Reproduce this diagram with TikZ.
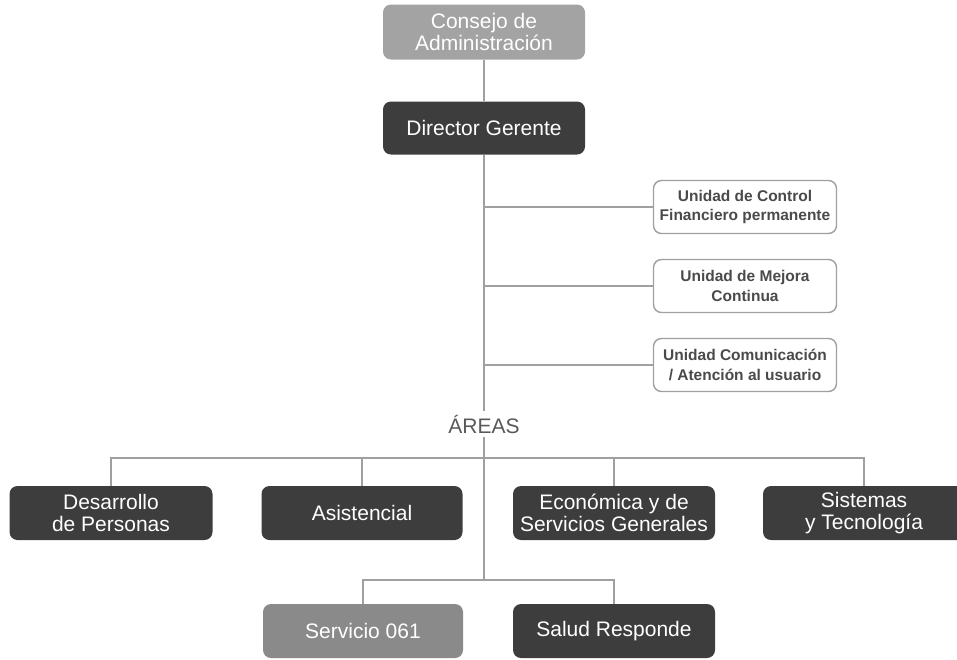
\documentclass[tikz,border=0pt]{standalone}
\usepackage{fontspec}
\setmainfont{Liberation Sans}
\definecolor{lightbox}{HTML}{A3A3A3}
\definecolor{midbox}{HTML}{8A8A8A}
\definecolor{darkbox}{HTML}{3D3D3D}
\definecolor{linegray}{HTML}{A0A0A0}
\definecolor{unittext}{HTML}{4A4A4A}
\begin{document}
\begin{tikzpicture}[x=1pt, y=-1pt]
            \tikzstyle{box}=[rectangle, rounded corners=8pt, inner sep=2pt, minimum height=54pt, text=white, align=center, font=\fontsize{21}{21.5}\selectfont]
            \tikzstyle{dark}=[box, fill=darkbox]
            \tikzstyle{unit}=[rectangle, rounded corners=8pt, draw=linegray, line width=1.4pt, fill=white, minimum width=183pt, minimum height=53pt, align=center, text=unittext, font=\fontsize{15.5}{19.5}\selectfont\bfseries]
            \tikzstyle{edge}=[linegray, line width=2pt]

            \useasboundingbox (0,0) rectangle (957,659);
            \clip (0,0) rectangle (957,659);

            \node[box, fill=lightbox, minimum width=202pt, minimum height=55pt] (consejo) at (484,32) {Consejo de\\Administración};
            \node[dark, minimum width=202pt, minimum height=53pt] (director) at (484,128) {Director Gerente};

            \node[unit] (control) at (745,207) {Unidad de Control\\Financiero permanente};
            \node[unit] (mejora) at (745,286) {Unidad de Mejora\\Continua};
            \node[unit] (comunica) at (745,365) {Unidad Comunicación\\/ Atención al usuario};

            \node[text=black!65, font=\fontsize{21}{21}\selectfont, inner sep=4pt] (areas) at (484,424) {ÁREAS};

            \node[dark, minimum width=203pt] (desarrollo) at (111,513) {Desarrollo\\de Personas};
            \node[dark, minimum width=201pt] (asistencial) at (362,513) {Asistencial};
            \node[dark, minimum width=202pt] (economica) at (614,513) {Económica y de\\Servicios Generales};
            \node[dark, minimum width=202pt] (sistemas) at (864,513) {Sistemas\\y Tecnología};

            \node[box, fill=midbox, minimum width=200pt] (servicio) at (363,631) {Servicio 061};
            \node[dark, minimum width=202pt] (salud) at (614,631) {Salud Responde};

            \coordinate (bus) at (484,458);
            \coordinate (split) at (484,580);

            \draw[edge] (consejo) -- (director);
            \draw[edge] (director) -- (areas);
            \draw[edge] (director.south |- control.west) -- (control.west);
            \draw[edge] (director.south |- mejora.west) -- (mejora.west);
            \draw[edge] (director.south |- comunica.west) -- (comunica.west);

            \draw[edge] (areas) -- (split);
            \draw[edge] (desarrollo) |- (bus) -| (sistemas);
            \draw[edge] (bus) -| (asistencial);
            \draw[edge] (bus) -| (economica);
            \draw[edge] (servicio) |- (split) -| (salud);
        \end{tikzpicture}
\end{document}
